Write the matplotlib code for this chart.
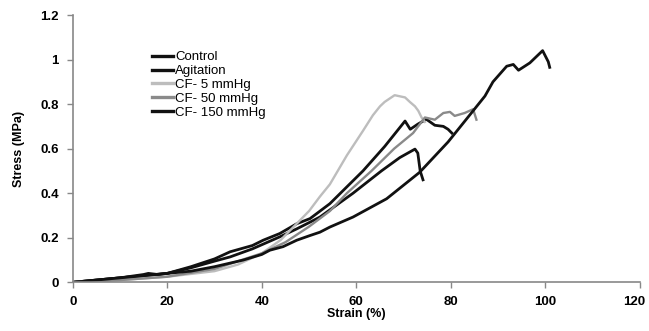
import matplotlib
matplotlib.use("Agg")
import matplotlib.pyplot as plt
import matplotlib.transforms as mtransforms

plt.rcParams['font.family'] = ['Liberation Sans', 'DejaVu Sans']

# Data (strain %, stress MPa)
control_x = [0, 5, 10, 15, 20, 25, 30, 33.3, 38, 43.8, 47.4, 50.2, 52.3, 59.3, 65.3, 69.2, 72.4, 73.0, 73.5, 74.1]
control_y = [0, 0.01, 0.02, 0.03, 0.04, 0.065, 0.095, 0.114, 0.15, 0.204, 0.24, 0.27, 0.293, 0.40, 0.50, 0.56, 0.598, 0.58, 0.50, 0.46]

agitation_x = [0, 5, 10, 15, 16, 18, 20, 25, 30, 33.3, 38, 40.3, 43.8, 47.4, 50.2, 54.4, 61.4, 66, 70.3, 71.4, 73, 74.8, 76.6, 78.4, 79.4, 80.2]
agitation_y = [0, 0.01, 0.02, 0.035, 0.04, 0.035, 0.04, 0.07, 0.105, 0.137, 0.165, 0.189, 0.219, 0.263, 0.286, 0.353, 0.50, 0.61, 0.724, 0.687, 0.71, 0.732, 0.705, 0.70, 0.687, 0.67]

cf5_x = [0, 10, 20, 30, 35, 40, 44, 47, 50, 52.3, 54.4, 58, 61.4, 63.5, 65, 66, 68.1, 70.3, 71.3, 72.4, 73.1, 73.8, 74.5]
cf5_y = [0, 0.01, 0.025, 0.05, 0.08, 0.13, 0.19, 0.255, 0.32, 0.385, 0.44, 0.57, 0.68, 0.75, 0.79, 0.81, 0.84, 0.83, 0.81, 0.79, 0.77, 0.74, 0.72]

cf50_x = [0, 10, 20, 30, 40, 45, 50, 54.4, 58, 63.2, 68, 72, 74.5, 76.6, 78.4, 79.8, 80.8, 82.9, 84.7, 85.4]
cf50_y = [0, 0.01, 0.025, 0.06, 0.13, 0.18, 0.25, 0.32, 0.40, 0.50, 0.60, 0.67, 0.74, 0.73, 0.76, 0.765, 0.747, 0.76, 0.777, 0.73]

cf150_x = [0, 5, 10, 15, 20, 25, 30, 36.1, 40, 41.7, 44.5, 47.4, 50.2, 52.3, 54.4, 59.3, 66.4, 73.4, 79.4, 84.4, 87.2, 88.9, 91.8, 93.2, 94.3, 96.7, 99.4, 100.6, 100.9]
cf150_y = [0, 0.01, 0.02, 0.03, 0.04, 0.05, 0.07, 0.10, 0.125, 0.144, 0.16, 0.189, 0.21, 0.225, 0.248, 0.293, 0.375, 0.494, 0.63, 0.762, 0.836, 0.90, 0.97, 0.978, 0.952, 0.985, 1.04, 0.99, 0.965]

labels = ["Control", "Agitation", "CF- 5 mmHg", "CF- 50 mmHg", "CF- 150 mmHg"]
colors = ["#111111", "#111111", "#bdbdbd", "#8a8a8a", "#111111"]
widths = [2.0, 2.0, 1.7, 1.7, 2.0]

xticks = [0, 20, 40, 60, 80, 100, 120]
yticks = [0, 0.2, 0.4, 0.6, 0.8, 1.0, 1.2]
yticklabels = ["0", "0.2", "0.4", "0.6", "0.8", "1", "1.2"]

fig = plt.figure(figsize=(6.49, 3.31), dpi=100)
ax = fig.add_axes([72.7/649, (331-282.3)/331, (640-72.7)/649, (282.3-15)/331])

series = [(control_x, control_y), (agitation_x, agitation_y), (cf5_x, cf5_y),
          (cf50_x, cf50_y), (cf150_x, cf150_y)]
for (xs, ys), lab, c, w in zip(series, labels, colors, widths):
    ax.plot(xs, ys, color=c, lw=w, label=lab, solid_joinstyle='round')

ax.set_xlim(0, 120)
ax.set_ylim(0, 1.2)
ax.set_xticks(xticks)
ax.set_yticks(yticks)
ax.set_yticklabels(yticklabels)
for s in ['top', 'right']:
    ax.spines[s].set_visible(False)
for s in ['left', 'bottom']:
    ax.spines[s].set_color('#888888')
    ax.spines[s].set_linewidth(1.2)
ax.tick_params(direction='out', length=4, width=1, color='#888888', labelsize=9.5, pad=6)
for lbl in ax.get_xticklabels() + ax.get_yticklabels():
    lbl.set_fontweight('bold')
# keep the last x tick label inside the figure edge (right edge near 645 px)
last = ax.get_xticklabels()[-1]
last.set_horizontalalignment('right')
last.set_transform(last.get_transform() + mtransforms.ScaledTranslation(3.5/72, 0, fig.dpi_scale_trans))

ax.set_xlabel("Strain (%)", fontsize=9, fontweight='bold', labelpad=0)
ax.set_ylabel("Stress (MPa)", fontsize=9, fontweight='bold', labelpad=11)

leg = ax.legend(loc='upper left', bbox_to_anchor=(0.14, 0.865), frameon=False,
                fontsize=9.5, handlelength=1.6, handletextpad=0.15, labelspacing=0.12,
                borderpad=0, borderaxespad=0)
for line in leg.get_lines():
    line.set_linewidth(2.4)

fig.savefig("out.png", dpi=100)
